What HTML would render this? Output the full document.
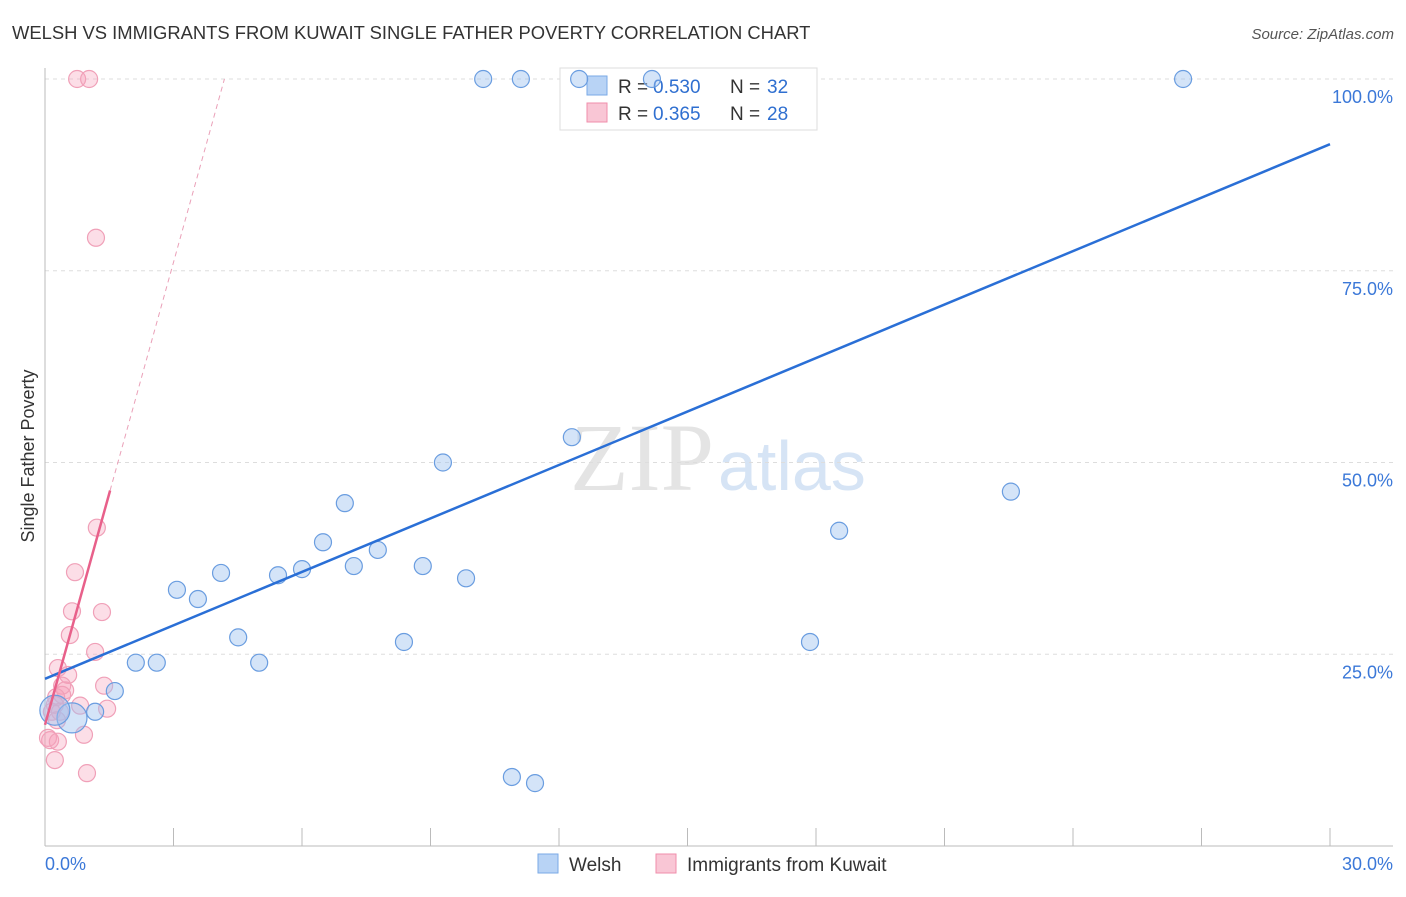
<!DOCTYPE html>
<html><head><meta charset="utf-8"><style>
body{margin:0;background:#fff;font-family:"Liberation Sans",sans-serif;}
</style></head><body>
<svg width="1406" height="892" xmlns="http://www.w3.org/2000/svg" id="chart">
<text x="12" y="39" font-size="18.4" fill="#333">WELSH VS IMMIGRANTS FROM KUWAIT SINGLE FATHER POVERTY CORRELATION CHART</text>
<text x="1394" y="39" font-size="15" fill="#555" font-style="italic" text-anchor="end">Source: ZipAtlas.com</text>
<text x="714" y="490" font-size="96" fill="#e4e4e4" text-anchor="end" font-family="Liberation Serif,serif">ZIP</text>
<text x="718" y="490" font-size="70" fill="#d6e4f5">atlas</text>
<text transform="translate(34,456) rotate(-90)" font-size="18" fill="#333" text-anchor="middle">Single Father Poverty</text>
<g id="grid"></g>
<g>
<rect x="560" y="68" width="257" height="62" fill="#fff" stroke="#ddd"/>
<rect x="587" y="76" width="20" height="19" fill="#b8d3f5" stroke="#7aaae6"/>
<rect x="587" y="103" width="20" height="19" fill="#f9c6d5" stroke="#f08eab"/>
<text x="618" y="93" font-size="19" fill="#333">R =</text>
<text x="653" y="93" font-size="19" fill="#2f6fd0">0.530</text>
<text x="730" y="93" font-size="19" fill="#333">N =</text>
<text x="767" y="93" font-size="19" fill="#2f6fd0">32</text>
<text x="618" y="120" font-size="19" fill="#333">R =</text>
<text x="653" y="120" font-size="19" fill="#2f6fd0">0.365</text>
<text x="730" y="120" font-size="19" fill="#333">N =</text>
<text x="767" y="120" font-size="19" fill="#2f6fd0">28</text>
</g>
<g id="pts"></g><g id="lines"></g>
<g>
<rect x="538" y="854" width="20" height="19" fill="#b8d3f5" stroke="#7aaae6"/>
<text x="569" y="871" font-size="19" fill="#333">Welsh</text>
<rect x="656" y="854" width="20" height="19" fill="#f9c6d5" stroke="#f08eab"/>
<text x="687" y="871" font-size="19" fill="#333">Immigrants from Kuwait</text>
</g>
</svg>
<script>
const xTicks=[0,3,6,9,12,15,18,21,24,27,30];
const yTicks=[25,50,75,100];
const welshX=[10.23,11.11,12.47,14.17,26.57,12.30,9.29,7.00,6.49,7.77,7.21,8.82,9.83,6.00,5.44,4.11,3.08,3.57,4.51,8.38,17.86,18.54,22.55,2.12,2.61,5.00,1.63,1.17,0.63,0.23,10.90,11.44];
const welshY=[100,100,100,100,100,53.3,50.0,44.7,39.6,38.6,36.5,36.5,34.9,36.1,35.3,35.6,33.4,32.2,27.2,26.6,26.6,41.1,46.2,23.9,23.9,23.9,20.2,17.5,16.7,17.7,9.0,8.2];
const welshW=[1,1,1,1,1,1,1,1,1,1,1,1,1,1,1,1,1,1,1,1,1,1,1,1,1,1,1,1,3,3,1,1];
const kuwX=[0.75,1.03,1.19,1.21,0.70,0.63,1.33,0.58,1.17,0.30,0.54,0.40,0.47,1.38,0.82,1.45,0.23,0.16,0.35,0.28,0.91,0.12,0.07,0.30,0.23,0.98,0.40,0.26];
const kuwY=[100,100,79.3,41.5,35.7,30.6,30.5,27.5,25.3,23.2,22.3,20.9,20.3,20.9,18.3,17.9,18.4,17.5,17.5,16.4,14.5,13.8,14.1,13.6,11.2,9.5,19.7,19.4];
const welshTrend=[21.8,91.5];
const kuwTrend=[15.8,20.1];
const NS="http://www.w3.org/2000/svg";
const sx=v=>45+v/30*1285, sy=v=>846-v/100*767;
function mk(tag,attrs,parent){const e=document.createElementNS(NS,tag);for(const k in attrs)e.setAttribute(k,attrs[k]);document.getElementById(parent).appendChild(e);return e;}
yTicks.forEach(t=>{
 const l=mk('line',{x1:45,x2:1393,y1:sy(t),y2:sy(t),stroke:'#ddd','stroke-dasharray':'4,4'},'grid');
 
 
 const tx=mk('text',{x:1393,y:sy(t)+24,'font-size':18,fill:'#3b78d8','text-anchor':'end'},'grid');tx.textContent=t.toFixed(1)+'%';
 
 
});
mk('line',{x1:45,x2:45,y1:68,y2:846,stroke:'#bbb'},'grid');
mk('line',{x1:45,x2:1393,y1:846,y2:846,stroke:'#bbb'},'grid');
xTicks.forEach(t=>{
 const l=mk('line',{x1:sx(t),x2:sx(t),y1:828,y2:846,stroke:'#bbb'},'grid');
 
 
});
[[0,'start',45],[30,'end',1393]].forEach(([v,a,x])=>{const tx=mk('text',{x:x,y:870,'font-size':18,fill:'#3b78d8','text-anchor':a},'grid');tx.textContent=v.toFixed(1)+'%';
 
 });
kuwX.forEach((x,i)=>{const c=mk('circle',{cx:sx(x),cy:sy(kuwY[i]),r:8.5,fill:'rgba(245,160,185,0.35)',stroke:'#f0a0b8','stroke-width':1.2},'pts');
 
 });
welshX.forEach((x,i)=>{const c=mk('circle',{cx:sx(x),cy:sy(welshY[i]),r:welshW[i]>1?15:8.5,fill:'rgba(160,195,240,0.45)',stroke:'#6a9de0','stroke-width':1.2},'pts');
 
 });
const bl=mk('line',{x1:sx(0),y1:sy(welshTrend[0]),x2:sx(30),y2:sy(welshTrend[1]),stroke:'#2a6fd6','stroke-width':2.5},'lines');


const xEnd=1.52, xTop=(100-kuwTrend[0])/kuwTrend[1];
const pl=mk('line',{x1:sx(0),y1:sy(kuwTrend[0]),x2:sx(xEnd),y2:sy(kuwTrend[0]+kuwTrend[1]*xEnd),stroke:'#e8608a','stroke-width':2.5},'lines');


const pd=mk('line',{x1:sx(xEnd),y1:sy(kuwTrend[0]+kuwTrend[1]*xEnd),x2:sx(xTop),y2:sy(100),stroke:'#eaa0b8','stroke-width':1,'stroke-dasharray':'5,4'},'lines');


</script>
</body></html>
